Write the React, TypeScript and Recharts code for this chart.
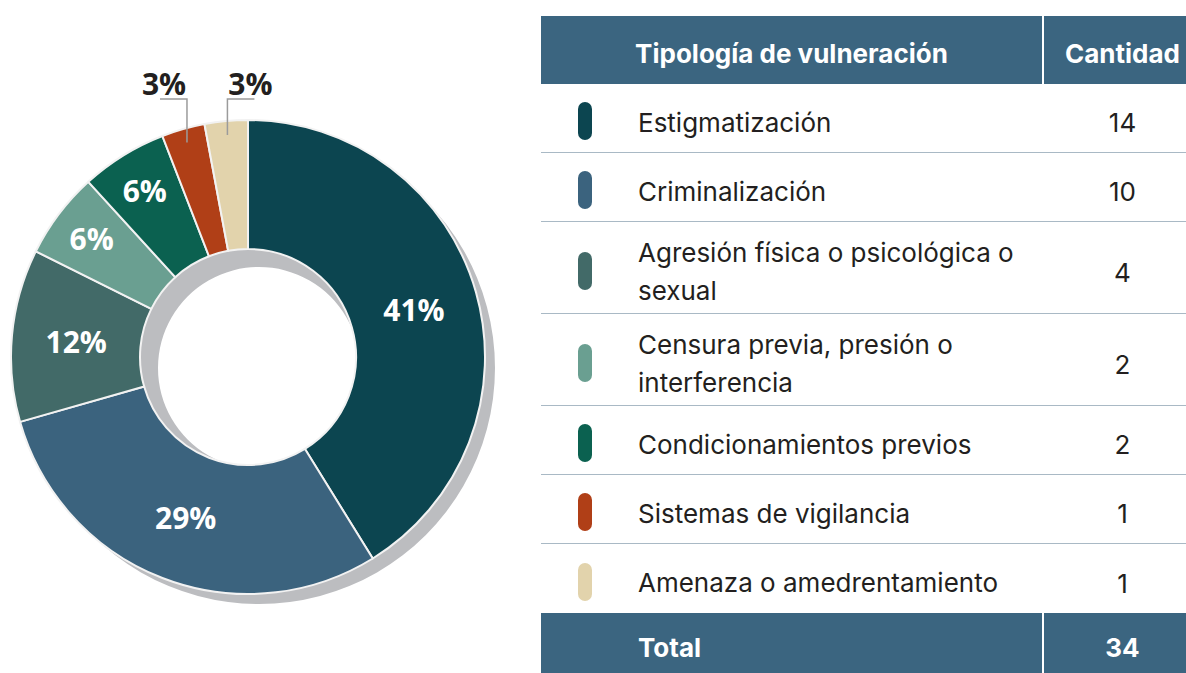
import React from "react";
import { PieChart, Pie, Cell } from "recharts";

// Tipologías y cantidades (tabla y dona)
const categorias = [
  "Estigmatización",
  "Criminalización",
  "Agresión física o psicológica o\nsexual",
  "Censura previa, presión o\ninterferencia",
  "Condicionamientos previos",
  "Sistemas de vigilancia",
  "Amenaza o amedrentamiento",
];
const cantidades = [14, 10, 4, 2, 2, 1, 1];
const colores = ["#0c4550", "#3b637e", "#426a68", "#6a9f91", "#0b6150", "#b03f17", "#e2d3ac"];
const sombra = [{ name: "sombra", value: 1 }];

const data = categorias.map((c, i) => ({ name: c, value: cantidades[i] }));
const total = cantidades.reduce((s, v) => s + v, 0);

const HEADER_BG = "#3b6580";
const RAD = Math.PI / 180;

// eslint-disable-next-line @typescript-eslint/no-explicit-any
const renderLabel = (props: any) => {
  const { cx, cy, midAngle, innerRadius, outerRadius, percent, index } = props;
  const txt = `${Math.round(percent * 100)}%`;
  const cos = Math.cos(-midAngle * RAD);
  const sin = Math.sin(-midAngle * RAD);

  // slices chicos: etiqueta afuera con línea
  if (percent < 0.04) {
    const r = outerRadius - 14;
    const x0 = cx + r * cos;
    const y0 = cy + r * sin;
    const yTop = cy - outerRadius - 21;
    const dir = index === data.length - 1 ? 1 : -1;
    const x1 = x0 + dir * 27;
    return (
      <g>
        <polyline
          points={`${x0},${y0} ${x0},${yTop} ${x1},${yTop}`}
          fill="none"
          stroke="#9b9b9b"
          strokeWidth={1.5}
        />
        <text
          x={x1 - dir * 4}
          y={yTop - 16}
          textAnchor="middle"
          dominantBaseline="central"
          fill="#231f20"
          fontFamily="Open Sans"
          fontWeight={700}
          fontSize={30}
        >
          {txt}
        </text>
      </g>
    );
  }

  const r = percent < 0.1 ? 196 : (innerRadius + outerRadius) / 2;
  return (
    <text
      x={cx + r * cos}
      y={cy + r * sin}
      textAnchor="middle"
      dominantBaseline="central"
      fill="#fff"
      fontFamily="Open Sans"
      fontWeight={700}
      fontSize={30}
    >
      {txt}
    </text>
  );
};

export default function App() {
  return (
    <div style={{ position: "relative", width: 1186, height: 673, overflow: "hidden", background: "#fff", fontFamily: "Inter, sans-serif" }}>
      <style>{`body{margin:0}`}</style>

      <div style={{ position: "absolute", left: 0, top: 0 }}>
        <PieChart width={530} height={673} margin={{ top: 0, right: 0, bottom: 0, left: 0 }}>
          <Pie
            data={sombra}
            dataKey="value"
            cx={259}
            cy={368}
            innerRadius={101}
            outerRadius={236}
            fill="#bcbdc0"
            stroke="none"
            isAnimationActive={false}
          />
          <Pie
            data={data}
            dataKey="value"
            nameKey="name"
            cx={248}
            cy={357}
            innerRadius={108}
            outerRadius={237}
            startAngle={90}
            endAngle={-270}
            stroke="#f2f2f2"
            strokeWidth={2}
            label={renderLabel}
            labelLine={false}
            isAnimationActive={false}
          >
            {data.map((d, i) => (
              <Cell key={d.name} fill={colores[i]} />
            ))}
          </Pie>
        </PieChart>
      </div>

      {/* tabla */}
      <div style={{ position: "absolute", left: 541, top: 16, width: 660 }}>
        <div style={{ display: "flex", boxSizing: "border-box", height: 68, paddingTop: 6, background: HEADER_BG, color: "#fff", fontWeight: 700, fontSize: 26 }}>
          <div style={{ width: 501, display: "flex", alignItems: "center", justifyContent: "center" }}>
            Tipología de vulneración
          </div>
          <div style={{ flex: 1, borderLeft: "2px solid #fff", marginTop: -6, paddingTop: 6, display: "flex", alignItems: "center", justifyContent: "center" }}>
            Cantidad
          </div>
        </div>
        {categorias.map((c, i) => (
          <div
            key={c}
            style={{
              display: "flex",
              boxSizing: "border-box",
              height: c.includes("\n") ? 92 : 69,
              paddingTop: 9,
              borderBottom: i < categorias.length - 1 ? "1.5px solid #a9b9c5" : "none",
              color: "#231f20",
              fontSize: 26,
              alignItems: "center",
            }}
          >
            <div style={{ width: 501, display: "flex", alignItems: "center" }}>
              <div style={{ width: 14, height: 38, borderRadius: 7, background: colores[i], marginLeft: 37, marginTop: -3 }} />
              <div style={{ marginLeft: 46, whiteSpace: "pre-line", lineHeight: "38px" }}>{c}</div>
            </div>
            <div style={{ flex: 1, paddingLeft: 2, textAlign: "center" }}>{cantidades[i]}</div>
          </div>
        ))}
        <div style={{ display: "flex", boxSizing: "border-box", height: 70, background: HEADER_BG, color: "#fff", fontWeight: 700, fontSize: 26 }}>
          <div style={{ width: 501, boxSizing: "border-box", display: "flex", alignItems: "center", paddingLeft: 97, paddingBottom: 2 }}>Total</div>
          <div style={{ flex: 1, borderLeft: "2px solid #fff", paddingBottom: 2, display: "flex", alignItems: "center", justifyContent: "center" }}>
            {total}
          </div>
        </div>
      </div>
    </div>
  );
}
